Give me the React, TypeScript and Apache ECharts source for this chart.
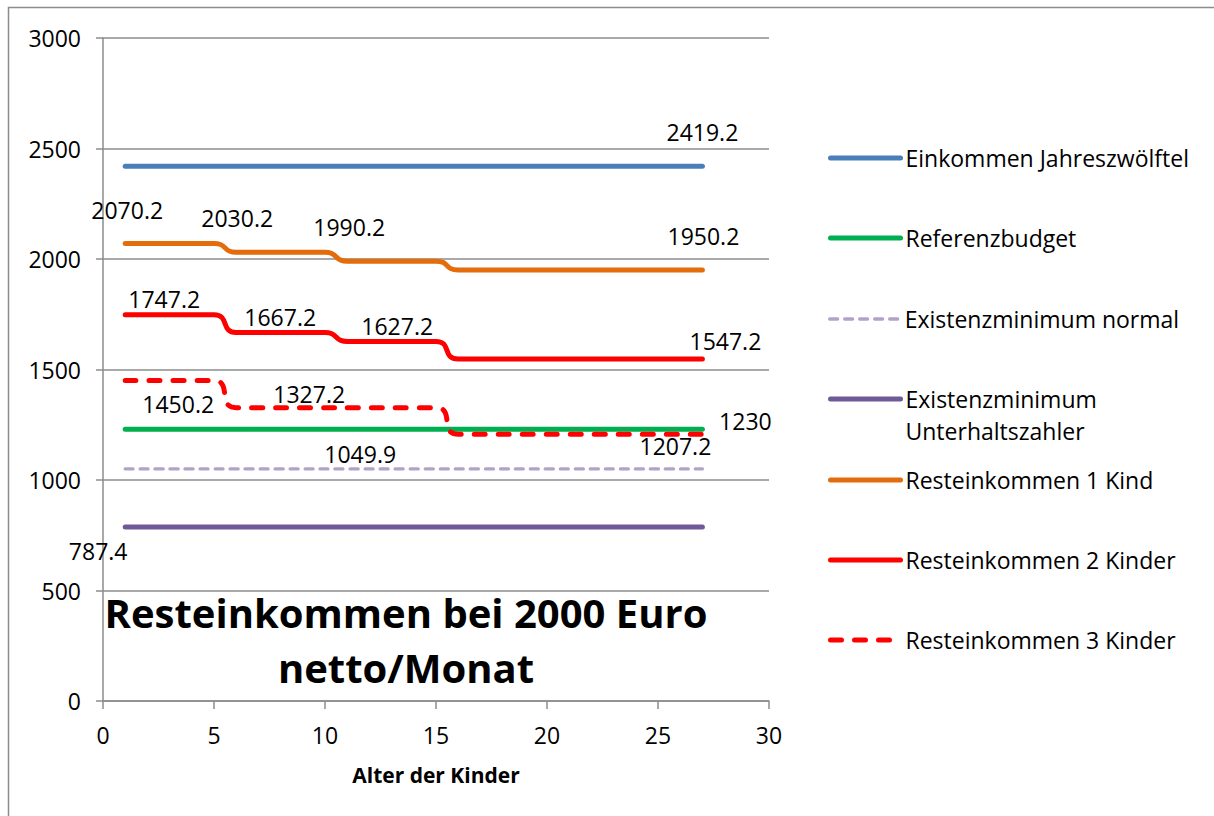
import React, { useEffect, useRef } from "react";
import * as echarts from "echarts";

// ---- data ----
const agesSteps = [1, 5, 6, 10, 11, 15, 16, 27];
const agesThree = [1, 5, 6, 15, 16, 27];
const agesFlat = [1, 27];

const einkommen = [2419.2, 2419.2];
const referenzbudget = [1230, 1230];
const existNormal = [1049.9, 1049.9];
const existUnterhalt = [787.4, 787.4];
const rest1 = [2070.2, 2070.2, 2030.2, 2030.2, 1990.2, 1990.2, 1950.2, 1950.2];
const rest2 = [1747.2, 1747.2, 1667.2, 1667.2, 1627.2, 1627.2, 1547.2, 1547.2];
const rest3 = [1450.2, 1450.2, 1327.2, 1327.2, 1207.2, 1207.2];

const seriesNames = [
  "Einkommen Jahreszwölftel",
  "Referenzbudget",
  "Existenzminimum normal",
  "Existenzminimum Unterhaltszahler",
  "Resteinkommen 1 Kind",
  "Resteinkommen 2 Kinder",
  "Resteinkommen 3 Kinder",
];

const titleText = "Resteinkommen bei 2000 Euro\nnetto/Monat";
const xAxisName = "Alter der Kinder";

// ---- styling (kept apart from data) ----
const FONT = "Open Sans";
const labelOffsets: Record<number, Record<number, [number, number]>> = {
  0: { 1: [0, -34] },
  1: { 1: [43, -8] },
  2: { 0: [235, -15] },
  3: { 0: [-27, 24] },
  4: { 0: [2, -33], 2: [1, -34], 4: [2, -34], 7: [1, -34] },
  5: { 0: [39, -16], 2: [44, -16], 4: [50, -15], 7: [23, -18] },
  6: { 0: [53, 23], 2: [73, -14], 5: [-27, 12] },
};

const seriesDefs = [
  { ages: agesFlat, vals: einkommen, color: "#4A7EBB", width: 5, dash: null as number[] | null },
  { ages: agesFlat, vals: referenzbudget, color: "#00B050", width: 5, dash: null },
  { ages: agesFlat, vals: existNormal, color: "#B3A2C7", width: 3.3, dash: [8, 7] },
  { ages: agesFlat, vals: existUnterhalt, color: "#6E5A96", width: 5, dash: null },
  { ages: agesSteps, vals: rest1, color: "#E46C0A", width: 5, dash: null },
  { ages: agesSteps, vals: rest2, color: "#FF0000", width: 5, dash: null },
  { ages: agesThree, vals: rest3, color: "#FF0000", width: 5, dash: [11, 13] },
];

const legendCenters = [158, 238, 319, 399, 480, 560, 640];

export default function App() {
  const ref = useRef<HTMLDivElement>(null);

  useEffect(() => {
    document.body.style.margin = "0";
    if (!ref.current) return;
    const chart = echarts.init(ref.current, undefined, { renderer: "svg" });

    const series = seriesDefs.map((d, si) => ({
      name: seriesNames[si],
      type: "line",
      smooth: 0.6,
      symbol: "circle",
      symbolSize: 0,
      showSymbol: true,
      itemStyle: { color: d.color },
      lineStyle: {
        color: d.color,
        width: d.width,
        type: d.dash ? d.dash : "solid",
        cap: "round",
        join: "round",
      },
      label: {
        show: false,
        position: "inside",
        fontFamily: FONT,
        fontSize: 23,
        color: "#000",
        formatter: (p: any) => String(p.value[1]),
      },
      emphasis: { disabled: true },
      data: d.ages.map((a, i) => {
        const item: any = { value: [a, d.vals[i]] };
        const off = labelOffsets[si] && labelOffsets[si][i];
        if (off) item.label = { show: true, offset: off };
        return item;
      }),
      z: 2 + si,
    }));

    const legend = seriesNames.map((n, i) => ({
      data: [n],
      orient: "vertical",
      left: 828,
      top: i === 3 ? legendCenters[i] - 48 : legendCenters[i] - 16,
      padding: 0,
      itemWidth: 70,
      itemHeight: 14,
      selectedMode: false,
      itemStyle: { opacity: 0 },
      lineStyle: { width: "inherit" },
      formatter: i === 3 ? () => " \nExistenzminimum\nUnterhaltszahler" : undefined,
      textStyle: {
        fontFamily: FONT,
        fontSize: 23,
        color: "#000",
        lineHeight: 32,
      },
    }));

    chart.setOption({
      animation: false,
      backgroundColor: "#ffffff",
      grid: { left: 103, right: 445, top: 38, bottom: 115, containLabel: false },
      xAxis: {
        type: "value",
        min: 0,
        max: 30,
        interval: 5,
        name: xAxisName,
        nameLocation: "middle",
        nameGap: 63,
        nameTextStyle: { fontFamily: FONT, fontSize: 21, fontWeight: "bold", color: "#000" },
        splitLine: { show: false },
        axisLine: { show: true, lineStyle: { color: "#8C8C8C", width: 1.5 } },
        axisTick: { show: true, inside: false, length: 8, lineStyle: { color: "#8C8C8C", width: 1.5 } },
        axisLabel: { fontFamily: FONT, fontSize: 23, color: "#000", margin: 22, formatter: (v: number) => String(v) },
      },
      yAxis: {
        type: "value",
        min: 0,
        max: 3000,
        interval: 500,
        splitLine: { show: true, lineStyle: { color: "#8C8C8C", width: 1.5 } },
        axisLine: { show: true, lineStyle: { color: "#8C8C8C", width: 1.5 } },
        axisTick: { show: true, inside: false, length: 7, lineStyle: { color: "#8C8C8C", width: 1.5 } },
        axisLabel: { fontFamily: FONT, fontSize: 23, color: "#000", margin: 22, formatter: (v: number) => String(v) },
      },
      legend,
      graphic: [
        {
          type: "rect",
          silent: true,
          z: -10,
          shape: { x: 8.5, y: 7.5, width: 1220, height: 820 },
          style: { fill: "none", stroke: "#8C8C8C", lineWidth: 1.5 },
        },
        {
          type: "text",
          silent: true,
          x: 406,
          y: 640,
          z: 20,
          style: {
            text: titleText,
            fontFamily: FONT,
            fontSize: 40,
            fontWeight: "bold",
            lineHeight: 55,
            align: "center",
            verticalAlign: "middle",
            fill: "#000",
          },
        },
      ],
      series,
    });

    return () => chart.dispose();
  }, []);

  return <div ref={ref} style={{ width: 1214, height: 816 }} />;
}
